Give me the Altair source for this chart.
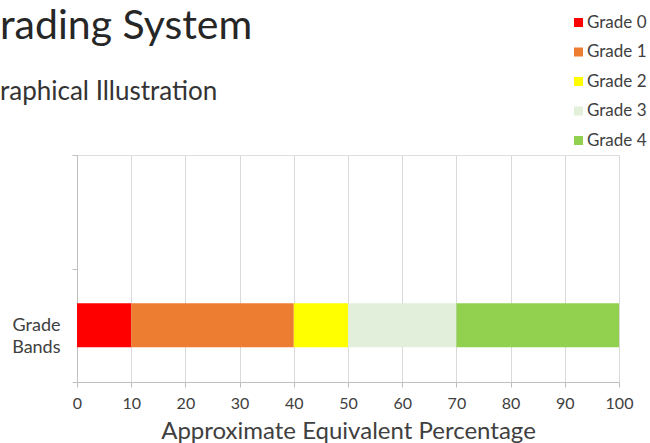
import altair as alt
import pandas as pd

grades = ["Grade 0", "Grade 1", "Grade  2", "Grade 3", "Grade 4"]
lower = [0, 10, 40, 50, 70]
upper = [10, 40, 50, 70, 100]
colors = ["#FF0000", "#ED7D31", "#FFFF00", "#E2EFDA", "#92D050"]
category = "Grade Bands"
y_domain = [" ", category]
x_ticks = [0, 10, 20, 30, 40, 50, 60, 70, 80, 90, 100]

df = pd.DataFrame({
    "grade": grades,
    "lower": lower,
    "upper": upper,
    "cat": [category] * len(grades),
})

FONT = "Lato"

chart = alt.Chart(df).mark_bar(size=44).encode(
    x=alt.X("lower:Q",
            scale=alt.Scale(domain=[0, 100], nice=False),
            axis=alt.Axis(values=x_ticks, title="Approximate Equivalent Percentage",
                          grid=True, gridColor="#d9d9d9", gridWidth=1,
                          domainColor="#bfbfbf", tickColor="#bfbfbf", tickSize=5,
                          labelFontSize=16, labelColor="#404040", labelPadding=8,
                          labelFlush=False, labelOverlap=False,
                          labelFont=FONT, titleFont=FONT, titleFontSize=24,
                          titleFontWeight="normal", titleColor="#404040",
                          titlePadding=8)),
    x2="upper:Q",
    y=alt.Y("cat:N",
            scale=alt.Scale(domain=y_domain, paddingInner=0, paddingOuter=0),
            axis=alt.Axis(title=None, grid=False, tickBand="extent",
                          domainColor="#bfbfbf", tickColor="#bfbfbf", tickSize=5,
                          labelExpr="split(datum.label, ' ')",
                          labelFontSize=18, labelColor="#404040", labelFont=FONT,
                          labelLineHeight=22, labelPadding=12)),
    color=alt.Color("grade:N",
                    scale=alt.Scale(domain=grades, range=colors),
                    legend=alt.Legend(title=None, orient="none", legendX=493, legendY=-141,
                                      symbolType="square", symbolSize=81,
                                      symbolStrokeWidth=0, labelFontSize=17,
                                      labelFont=FONT, labelColor="#404040",
                                      rowPadding=11.5, padding=0, labelOffset=0)),
).properties(
    width=542,
    height=227,
    padding={"left": 77, "top": 155, "right": 31, "bottom": 61},
    autosize=alt.AutoSizeParams(type="none"),
    title=alt.TitleParams(
        text="rading System",
        subtitle="raphical Illustration",
        anchor="start",
        frame="group",
        dx=-77,
        dy=140,
        offset=48,
        font=FONT,
        fontSize=41,
        fontWeight="normal",
        color="#262626",
        subtitleFont=FONT,
        subtitleFontSize=26,
        subtitleColor="#333333",
        subtitlePadding=31,
    ),
).configure_view(stroke=None).configure(background="white")

chart.save("out.html", embed_options={"renderer": "svg", "actions": False})
